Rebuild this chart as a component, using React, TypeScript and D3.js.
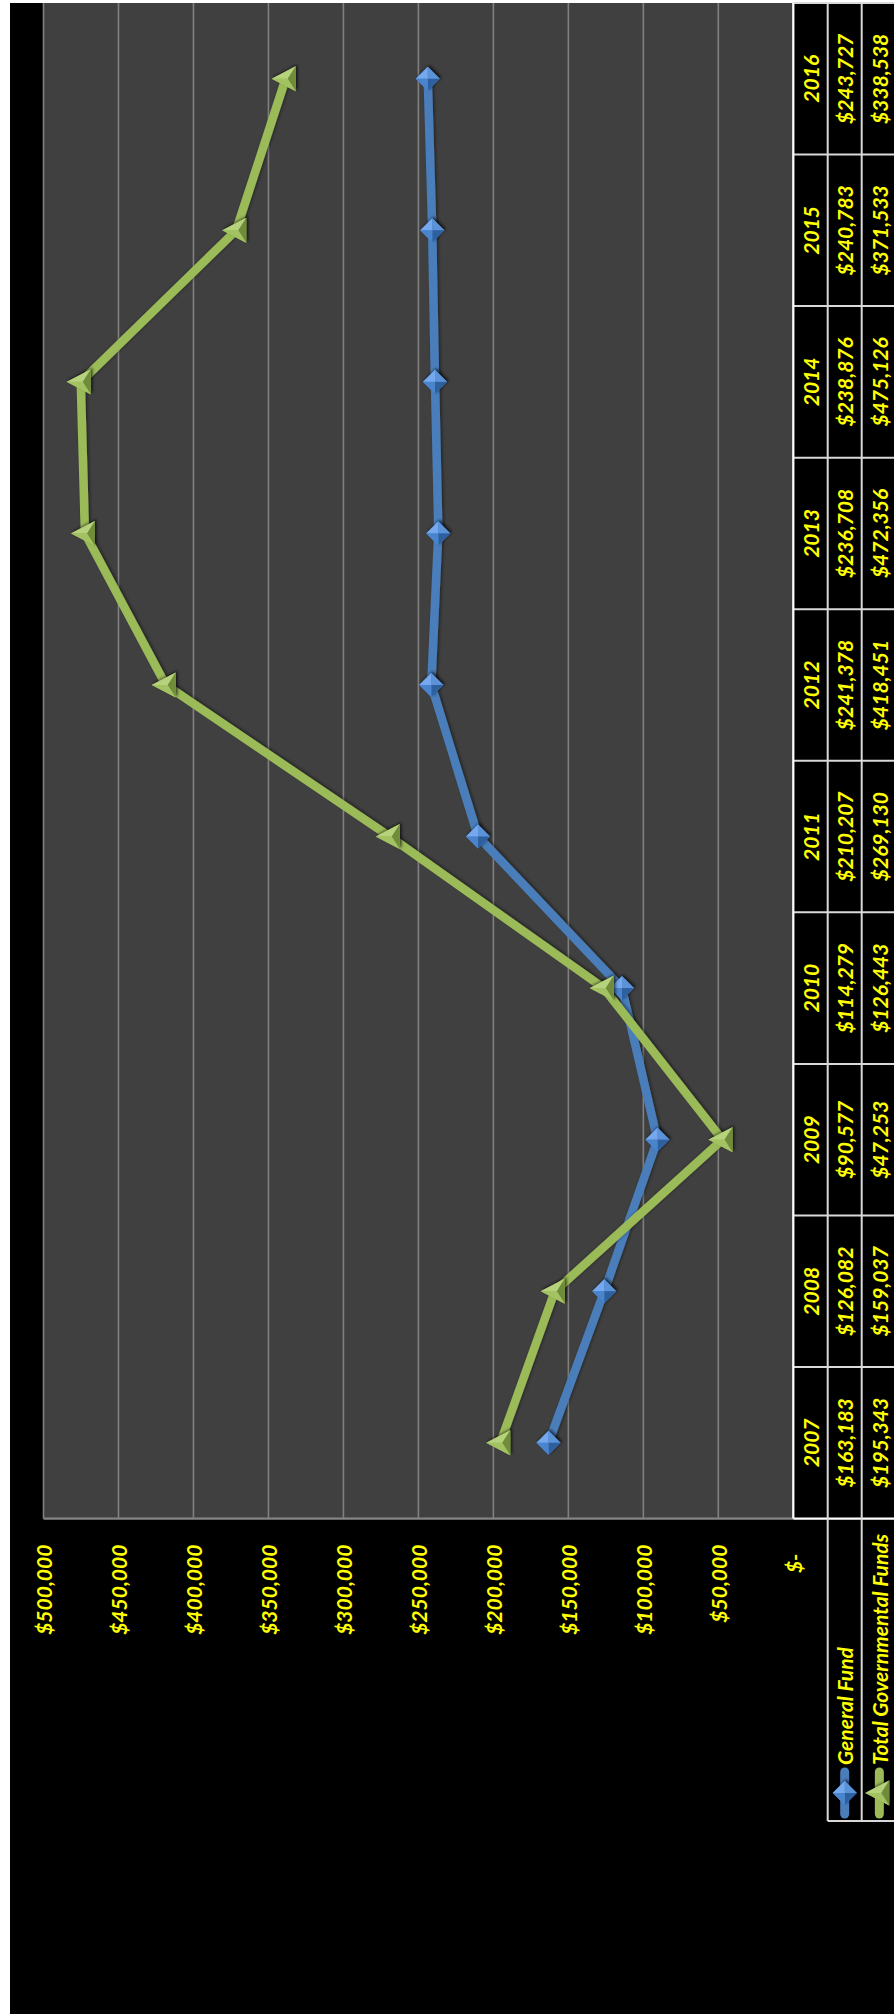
import React from 'react';
import * as d3 from 'd3';

// Fund balances by fiscal year
const years = ['2007', '2008', '2009', '2010', '2011', '2012', '2013', '2014', '2015', '2016'];
const generalFund = [163183, 126082, 90577, 114279, 210207, 241378, 236708, 238876, 240783, 243727];
const totalGovFunds = [195343, 159037, 47253, 126443, 269130, 418451, 472356, 475126, 371533, 338538];
const seriesNames = ['General Fund', 'Total Governmental Funds'];
const valueTicks = [0, 50000, 100000, 150000, 200000, 250000, 300000, 350000, 400000, 450000, 500000];

const PAGE_W = 894;
const PAGE_H = 2014;

// The chart is laid out in its own frame (u across, v down) and then turned a quarter turn
// counter-clockwise onto the page: screen x = v, screen y = PAGE_H - u.
const plotU0 = 495.4;
const plotU1 = 2011;
const plotV0 = 43.5;
const plotV1 = 793.3;
const rowV = [793.3, 827.7, 861.7, 897];
const legendU0 = 193;

const YELLOW = '#FFFF00';
const FONT = 'Lato, "Open Sans", sans-serif';

const x = d3.scaleBand<string>().domain(years).range([plotU0, plotU1]).padding(0);
const y = d3.scaleLinear().domain([0, 500000]).range([plotV1, plotV0]);
const cx = (yr: string) => (x(yr) as number) + x.bandwidth() / 2;
const fmt = (v: number) => (v === 0 ? '$-' : '$' + d3.format(',')(v));

const seriesColors = [
  { line: '#4a7ebb', base: '#4a84cc', light: '#74a8ee', mid: '#5b92d8', dark: '#2d5f9e' },
  { line: '#9bbb59', base: '#93b553', light: '#b7d27c', mid: '#a3c262', dark: '#6f8c3a' },
];

function Diamond({ u, v, c }: { u: number; v: number; c: typeof seriesColors[0] }) {
  const r = 12;
  const N: [number, number] = [u, v - r];
  const E: [number, number] = [u + r, v];
  const S: [number, number] = [u, v + r];
  const W: [number, number] = [u - r, v];
  const C: [number, number] = [u, v];
  const p = (pts: [number, number][]) => pts.map((q) => q.join(',')).join(' ');
  return (
    <g filter="url(#mshadow)">
      <polygon points={p([N, E, S, W])} fill={c.base} />
      <polygon points={p([C, N, E])} fill={c.light} />
      <polygon points={p([C, E, S])} fill={c.mid} />
      <polygon points={p([C, S, W])} fill={c.dark} />
      <polygon points={p([C, W, N])} fill={c.base} />
    </g>
  );
}

function Triangle({ u, v, c }: { u: number; v: number; c: typeof seriesColors[0] }) {
  const A: [number, number] = [u, v - 14];
  const B: [number, number] = [u + 12.5, v + 10];
  const D: [number, number] = [u - 12.5, v + 10];
  const C: [number, number] = [u, v + 2];
  const p = (pts: [number, number][]) => pts.map((q) => q.join(',')).join(' ');
  return (
    <g filter="url(#mshadow)">
      <polygon points={p([A, B, D])} fill={c.base} />
      <polygon points={p([C, A, B])} fill={c.light} />
      <polygon points={p([C, B, D])} fill={c.dark} />
      <polygon points={p([C, D, A])} fill={c.mid} />
    </g>
  );
}

export default function App() {
  const series = [generalFund, totalGovFunds];
  const line = d3
    .line<number>()
    .x((_, i) => cx(years[i]))
    .y((d) => y(d));

  const textStyle = {
    fontFamily: FONT,
    fontWeight: 700,
    fontStyle: 'italic' as const,
    fontSize: 21,
    fill: YELLOW,
  };

  const rowMid = (i: number) => (rowV[i] + rowV[i + 1]) / 2;

  return (
    <svg
      width={PAGE_W}
      height={PAGE_H}
      style={{ position: 'absolute', left: 0, top: 0, display: 'block' }}
    >
      <defs>
        <filter id="mshadow" x="-50%" y="-50%" width="200%" height="200%">
          <feDropShadow dx="1.5" dy="1.5" stdDeviation="1.5" floodColor="#000" floodOpacity="0.7" />
        </filter>
        <filter id="lshadow" x="-10%" y="-10%" width="120%" height="120%">
          <feDropShadow dx="1" dy="1.5" stdDeviation="1.5" floodColor="#000" floodOpacity="0.45" />
        </filter>
      </defs>
      <rect x={0} y={0} width={PAGE_W} height={PAGE_H} fill="#ffffff" />
      <rect x={10} y={3} width={PAGE_W - 10} height={PAGE_H - 3} fill="#000000" />

      <g transform={`translate(0,${PAGE_H}) rotate(-90)`}>
        {/* plot area */}
        <rect x={plotU0} y={plotV0} width={plotU1 - plotU0} height={plotV1 - plotV0} fill="#404040" />

        {/* gridlines */}
        {valueTicks.map((t) => (
          <line
            key={'g' + t}
            x1={plotU0}
            x2={plotU1}
            y1={y(t)}
            y2={y(t)}
            stroke="#808080"
            strokeWidth={1.6}
          />
        ))}

        {/* value axis line */}
        <line x1={plotU0} x2={plotU0} y1={plotV0} y2={plotV1} stroke="#868686" strokeWidth={2.2} />

        {/* value tick labels */}
        {valueTicks.map((t) => (
          <text
            key={'t' + t}
            x={plotU0 - 26 - (t === 0 ? 9 : 0)}
            y={y(t)}
            textAnchor="end"
            dominantBaseline="central"
            style={textStyle}
          >
            {fmt(t)}
          </text>
        ))}

        {/* series lines */}
        {series.map((s, si) => (
          <path
            key={'l' + si}
            d={line(s) as string}
            fill="none"
            stroke={seriesColors[si].line}
            strokeWidth={8.5}
            strokeLinejoin="round"
            strokeLinecap="round"
            filter="url(#lshadow)"
          />
        ))}

        {/* markers */}
        {generalFund.map((v, i) => (
          <Diamond key={'d' + i} u={cx(years[i])} v={y(v)} c={seriesColors[0]} />
        ))}
        {totalGovFunds.map((v, i) => (
          <Triangle key={'tr' + i} u={cx(years[i])} v={y(v)} c={seriesColors[1]} />
        ))}

        {/* data table */}
        <g>
          {years.map((yr, i) => (
            <g key={'c' + yr}>
              <text
                x={cx(yr)}
                y={rowMid(0)}
                textAnchor="middle"
                dominantBaseline="central"
                style={textStyle}
              >
                {yr}
              </text>
              <text
                x={cx(yr)}
                y={rowMid(1)}
                textAnchor="middle"
                dominantBaseline="central"
                style={textStyle}
              >
                {fmt(generalFund[i])}
              </text>
              <text
                x={cx(yr)}
                y={rowMid(2)}
                textAnchor="middle"
                dominantBaseline="central"
                style={textStyle}
              >
                {fmt(totalGovFunds[i])}
              </text>
            </g>
          ))}

          {/* table grid */}
          {years.map((yr) => (
            <line
              key={'vb' + yr}
              x1={(x(yr) as number) + x.bandwidth()}
              x2={(x(yr) as number) + x.bandwidth()}
              y1={rowV[0]}
              y2={rowV[3]}
              stroke="#d9d9d9"
              strokeWidth={2}
            />
          ))}
          <line x1={plotU0} x2={plotU0} y1={rowV[0]} y2={rowV[3]} stroke="#ffffff" strokeWidth={2.2} />
          <line x1={plotU1} x2={plotU1} y1={rowV[0]} y2={rowV[3]} stroke="#d9d9d9" strokeWidth={2} />
          <line x1={plotU0} x2={plotU1} y1={rowV[0]} y2={rowV[0]} stroke="#ffffff" strokeWidth={2.2} />
          <line x1={legendU0} x2={plotU1} y1={rowV[1]} y2={rowV[1]} stroke="#d9d9d9" strokeWidth={2} />
          <line x1={legendU0} x2={plotU1} y1={rowV[2]} y2={rowV[2]} stroke="#d9d9d9" strokeWidth={2} />
          <line x1={legendU0} x2={legendU0} y1={rowV[1]} y2={rowV[3]} stroke="#d9d9d9" strokeWidth={2} />

          {/* legend keys in the row headers */}
          {seriesNames.map((name, si) => {
            const v = rowMid(si + 1);
            const c = seriesColors[si];
            return (
              <g key={'k' + si}>
                <line
                  x1={legendU0 + 7}
                  x2={legendU0 + 49}
                  y1={v}
                  y2={v}
                  stroke={c.line}
                  strokeWidth={9}
                  strokeLinecap="round"
                />
                {si === 0 ? (
                  <Diamond u={legendU0 + 28} v={v} c={c} />
                ) : (
                  <Triangle u={legendU0 + 28} v={v} c={c} />
                )}
                <text
                  x={legendU0 + 56}
                  y={v}
                  textAnchor="start"
                  dominantBaseline="central"
                  style={textStyle}
                >
                  {name}
                </text>
              </g>
            );
          })}
        </g>
      </g>
    </svg>
  );
}
